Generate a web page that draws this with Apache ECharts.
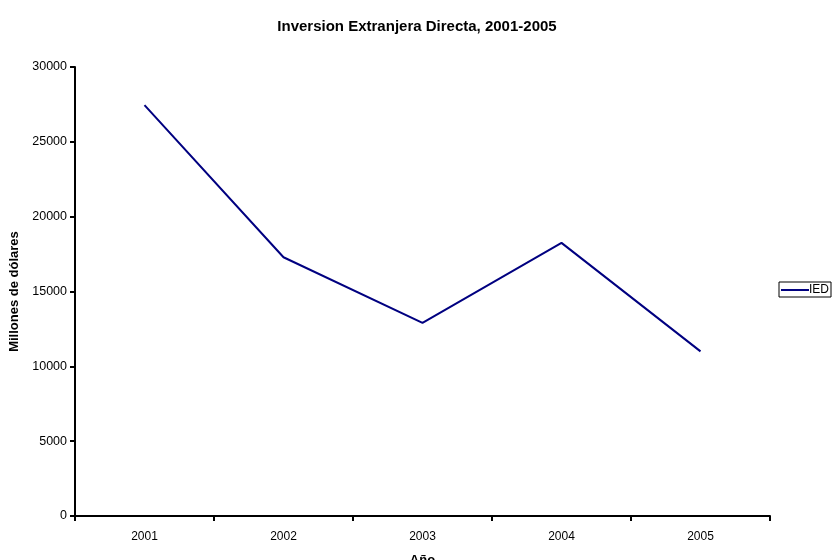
<!DOCTYPE html>
<html>
<head>
<meta charset="utf-8">
<script src="https://cdn.jsdelivr.net/npm/echarts@6/dist/echarts.min.js"></script>
<style>
  html, body { margin: 0; padding: 0; background: #fff; }
  #chart { width: 834px; height: 560px; }
</style>
</head>
<body>
<div id="chart"></div>
<script>
// Inversión extranjera directa, millones de dólares
const years = ['2001', '2002', '2003', '2004', '2005'];
const ied = [27450, 17290, 12900, 18250, 11000];
const yTicks = { min: 0, max: 30000, interval: 5000 };

const font = 'Liberation Sans, Arial, sans-serif';
const chart = echarts.init(document.getElementById('chart'));
chart.setOption({
  backgroundColor: '#ffffff',
  animation: false,
  title: {
    text: 'Inversion Extranjera Directa, 2001-2005',
    left: 'center',
    top: 14,
    textStyle: { fontFamily: font, fontSize: 15, fontWeight: 'bold', color: '#000' }
  },
  legend: {
    data: ['IED'],
    left: 779,
    top: 282,
    orient: 'vertical',
    borderColor: '#000',
    borderWidth: 1,
    padding: [2, 2, 1, 2],
    itemWidth: 28,
    itemHeight: 2,
    itemGap: 0,
    icon: 'rect',
    textStyle: { fontFamily: font, fontSize: 12, color: '#000', padding: [0, 0, 0, -5] }
  },
  grid: {
    left: 75, width: 695, top: 67, height: 449,
    containLabel: false,
    outerBoundsMode: 'none'
  },
  xAxis: {
    type: 'category',
    data: years,
    boundaryGap: true,
    name: 'Año',
    nameLocation: 'middle',
    nameGap: 38,
    nameTextStyle: { fontFamily: font, fontSize: 13, fontWeight: 'bold', color: '#000' },
    axisLine: { lineStyle: { color: '#000', width: 2 } },
    axisTick: { show: true, length: 5, lineStyle: { color: '#000', width: 2 } },
    axisLabel: { fontFamily: font, fontSize: 12, color: '#000', margin: 15 },
    splitLine: { show: false }
  },
  yAxis: {
    type: 'value',
    min: yTicks.min,
    max: yTicks.max,
    interval: yTicks.interval,
    name: 'Millones de dólares',
    nameLocation: 'middle',
    nameGap: 49,
    nameRotate: 90,
    nameTextStyle: { fontFamily: font, fontSize: 13, fontWeight: 'bold', color: '#000' },
    axisLine: { show: true, lineStyle: { color: '#000', width: 2 } },
    axisTick: { show: true, length: 5, lineStyle: { color: '#000', width: 2 } },
    axisLabel: {
      fontFamily: font, fontSize: 12.5, color: '#000', margin: 8,
      formatter: v => String(v)
    },
    splitLine: { show: false }
  },
  series: [{
    name: 'IED',
    type: 'line',
    data: ied,
    symbol: 'none',
    lineStyle: { color: '#000080', width: 2 },
    itemStyle: { color: '#000080' }
  }]
});
</script>
</body>
</html>
